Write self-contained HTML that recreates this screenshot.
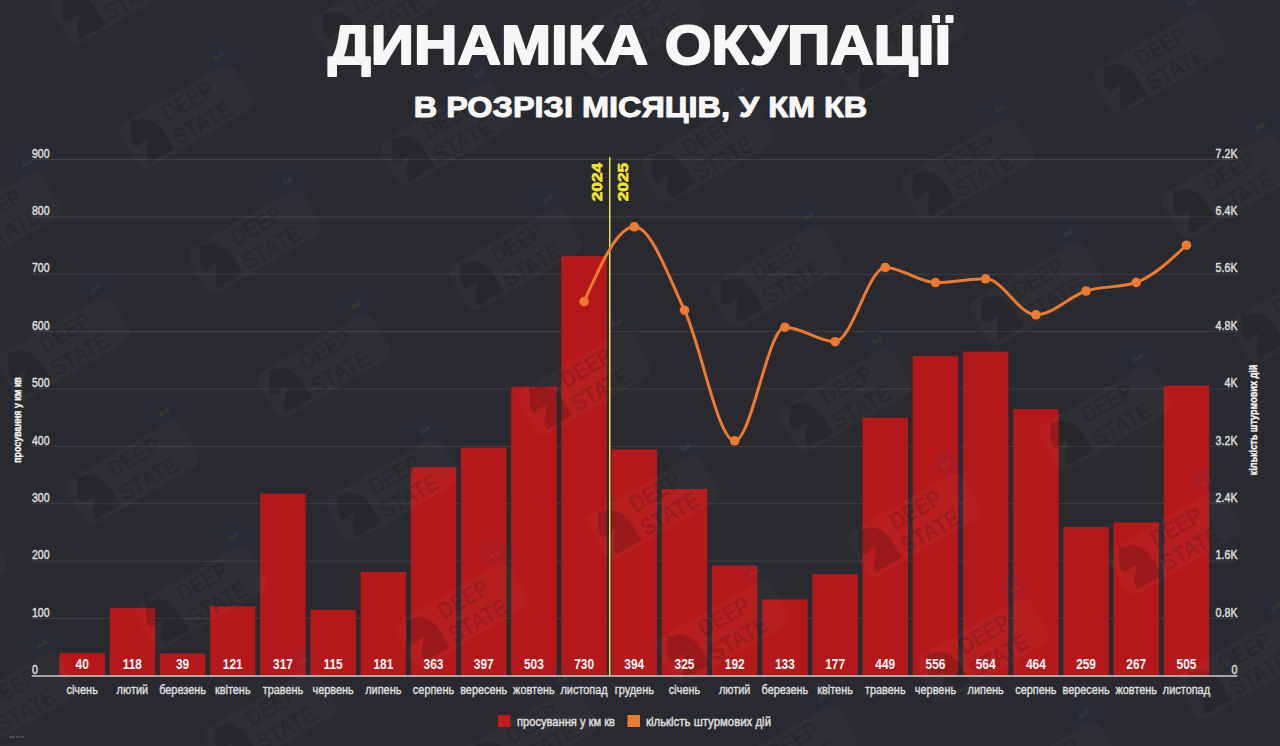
<!DOCTYPE html><html><head><meta charset="utf-8"><style>
html,body{margin:0;padding:0;background:#292a2f;width:1280px;height:746px;overflow:hidden}
svg{display:block}
text{font-family:"Liberation Sans",sans-serif}
</style></head><body>
<svg width="1280" height="746" viewBox="0 0 1280 746">
<rect width="1280" height="746" fill="#292a2f"/>
<rect x="31.7" y="618.02" width="1205.6" height="1" fill="#3f4045"/>
<rect x="31.7" y="560.65" width="1205.6" height="1" fill="#3f4045"/>
<rect x="31.7" y="503.27" width="1205.6" height="1" fill="#3f4045"/>
<rect x="31.7" y="445.90" width="1205.6" height="1" fill="#3f4045"/>
<rect x="31.7" y="388.52" width="1205.6" height="1" fill="#3f4045"/>
<rect x="31.7" y="331.15" width="1205.6" height="1" fill="#3f4045"/>
<rect x="31.7" y="273.77" width="1205.6" height="1" fill="#3f4045"/>
<rect x="31.7" y="216.40" width="1205.6" height="1" fill="#3f4045"/>
<rect x="31.7" y="159.02" width="1205.6" height="1" fill="#3f4045"/>
<rect x="59.40" y="652.90" width="45.5" height="23.00" fill="#b4181a"/>
<rect x="109.59" y="608.05" width="45.5" height="67.85" fill="#b4181a"/>
<rect x="159.79" y="653.48" width="45.5" height="22.42" fill="#b4181a"/>
<rect x="209.99" y="606.33" width="45.5" height="69.57" fill="#b4181a"/>
<rect x="260.18" y="493.62" width="45.5" height="182.27" fill="#b4181a"/>
<rect x="310.38" y="609.77" width="45.5" height="66.12" fill="#b4181a"/>
<rect x="360.57" y="571.83" width="45.5" height="104.07" fill="#b4181a"/>
<rect x="410.76" y="467.17" width="45.5" height="208.72" fill="#b4181a"/>
<rect x="460.96" y="447.62" width="45.5" height="228.27" fill="#b4181a"/>
<rect x="511.15" y="386.68" width="45.5" height="289.22" fill="#b4181a"/>
<rect x="561.35" y="256.15" width="45.5" height="419.75" fill="#b4181a"/>
<rect x="611.54" y="449.35" width="45.5" height="226.55" fill="#b4181a"/>
<rect x="661.74" y="489.02" width="45.5" height="186.87" fill="#b4181a"/>
<rect x="711.93" y="565.50" width="45.5" height="110.40" fill="#b4181a"/>
<rect x="762.13" y="599.42" width="45.5" height="76.47" fill="#b4181a"/>
<rect x="812.32" y="574.12" width="45.5" height="101.77" fill="#b4181a"/>
<rect x="862.52" y="417.73" width="45.5" height="258.17" fill="#b4181a"/>
<rect x="912.72" y="356.20" width="45.5" height="319.70" fill="#b4181a"/>
<rect x="962.91" y="351.60" width="45.5" height="324.30" fill="#b4181a"/>
<rect x="1013.11" y="409.10" width="45.5" height="266.80" fill="#b4181a"/>
<rect x="1063.30" y="526.98" width="45.5" height="148.92" fill="#b4181a"/>
<rect x="1113.50" y="522.38" width="45.5" height="153.52" fill="#b4181a"/>
<rect x="1163.69" y="385.52" width="45.5" height="290.38" fill="#b4181a"/>
<g><defs><g id="bdg">
<rect x="-66" y="-26" width="132" height="52" rx="11" fill="rgba(255,255,255,0.028)"/>
<path d="M-56,22 L-26,22 L-27,16 C-26,6 -27,-4 -30,-10 C-33,-17 -40,-22 -46,-21 L-50,-25 L-52,-19 C-56,-15 -59,-9 -60,-4 L-58,1 L-53,1 C-50,-1 -47,-1 -44,0 C-48,6 -54,12 -55,16 Z" fill="rgba(0,0,0,0.15)"/>
<text transform="translate(9,-4.5) scale(0.85,1)" text-anchor="middle" font-size="24" font-weight="bold" fill="rgba(0,0,0,0.15)">DEEP</text>
<text transform="translate(11,21.5) scale(0.85,1)" text-anchor="middle" font-size="24" font-weight="bold" fill="rgba(0,0,0,0.15)">STATE</text>
<circle cx="58" cy="-38" r="13" fill="rgba(30,60,160,0.06)"/>
<path d="M52,-34 L64,-34 L62,-40 L58,-36 L54,-40 Z" fill="rgba(200,180,40,0.08)"/>
</g></defs><use href="#bdg" transform="translate(-59.2,579.7) rotate(-30)"/>
<use href="#bdg" transform="translate(9.7,704.2) rotate(-30)"/>
<use href="#bdg" transform="translate(-74.3,99.2) rotate(-30)"/>
<use href="#bdg" transform="translate(-5.4,223.7) rotate(-30)"/>
<use href="#bdg" transform="translate(63.5,348.2) rotate(-30)"/>
<use href="#bdg" transform="translate(132.4,472.7) rotate(-30)"/>
<use href="#bdg" transform="translate(201.3,597.2) rotate(-30)"/>
<use href="#bdg" transform="translate(270.2,721.7) rotate(-30)"/>
<use href="#bdg" transform="translate(117.3,-7.8) rotate(-30)"/>
<use href="#bdg" transform="translate(186.2,116.7) rotate(-30)"/>
<use href="#bdg" transform="translate(255.1,241.2) rotate(-30)"/>
<use href="#bdg" transform="translate(324.0,365.7) rotate(-30)"/>
<use href="#bdg" transform="translate(392.9,490.2) rotate(-30)"/>
<use href="#bdg" transform="translate(461.8,614.7) rotate(-30)"/>
<use href="#bdg" transform="translate(530.7,739.2) rotate(-30)"/>
<use href="#bdg" transform="translate(377.8,9.7) rotate(-30)"/>
<use href="#bdg" transform="translate(446.7,134.2) rotate(-30)"/>
<use href="#bdg" transform="translate(515.6,258.7) rotate(-30)"/>
<use href="#bdg" transform="translate(584.5,383.2) rotate(-30)"/>
<use href="#bdg" transform="translate(653.4,507.7) rotate(-30)"/>
<use href="#bdg" transform="translate(722.3,632.2) rotate(-30)"/>
<use href="#bdg" transform="translate(791.2,756.7) rotate(-30)"/>
<use href="#bdg" transform="translate(638.3,27.2) rotate(-30)"/>
<use href="#bdg" transform="translate(707.2,151.7) rotate(-30)"/>
<use href="#bdg" transform="translate(776.1,276.2) rotate(-30)"/>
<use href="#bdg" transform="translate(845.0,400.7) rotate(-30)"/>
<use href="#bdg" transform="translate(913.9,525.2) rotate(-30)"/>
<use href="#bdg" transform="translate(982.8,649.7) rotate(-30)"/>
<use href="#bdg" transform="translate(1051.7,774.2) rotate(-30)"/>
<use href="#bdg" transform="translate(898.8,44.7) rotate(-30)"/>
<use href="#bdg" transform="translate(967.7,169.2) rotate(-30)"/>
<use href="#bdg" transform="translate(1036.6,293.7) rotate(-30)"/>
<use href="#bdg" transform="translate(1105.5,418.2) rotate(-30)"/>
<use href="#bdg" transform="translate(1174.4,542.7) rotate(-30)"/>
<use href="#bdg" transform="translate(1243.3,667.2) rotate(-30)"/>
<use href="#bdg" transform="translate(1312.2,791.7) rotate(-30)"/>
<use href="#bdg" transform="translate(1090.4,-62.3) rotate(-30)"/>
<use href="#bdg" transform="translate(1159.3,62.2) rotate(-30)"/>
<use href="#bdg" transform="translate(1228.2,186.7) rotate(-30)"/>
<use href="#bdg" transform="translate(1297.1,311.2) rotate(-30)"/>
<use href="#bdg" transform="translate(1366.0,435.7) rotate(-30)"/>
<use href="#bdg" transform="translate(1350.9,-44.8) rotate(-30)"/></g>
<rect x="31.7" y="675.2" width="1205.6" height="1.6" fill="#c4c4c4"/>
<rect x="609" y="157" width="1.5" height="519" fill="#ece45c"/>
<path d="M584.10,301.57 C600.83,264.20 617.56,226.82 634.29,226.82 C651.03,226.82 667.76,274.54 684.49,310.20 C701.22,345.86 717.95,440.80 734.68,440.80 C751.42,440.80 768.15,327.23 784.88,327.23 C801.61,327.23 818.34,341.68 835.07,341.68 C851.81,341.68 868.54,267.43 885.27,267.43 C902.00,267.43 918.73,282.53 935.47,282.53 C952.20,282.53 968.93,278.79 985.66,278.79 C1002.39,278.79 1019.12,314.80 1035.86,314.80 C1052.59,314.80 1069.32,296.41 1086.05,291.01 C1102.78,285.61 1119.51,288.13 1136.25,282.38 C1152.98,276.63 1169.71,260.93 1186.44,245.23" fill="none" stroke="#ee7a30" stroke-width="3" stroke-linecap="round"/>
<circle cx="584.10" cy="301.57" r="4.8" fill="#ee7a30"/>
<circle cx="634.29" cy="226.82" r="4.8" fill="#ee7a30"/>
<circle cx="684.49" cy="310.20" r="4.8" fill="#ee7a30"/>
<circle cx="734.68" cy="440.80" r="4.8" fill="#ee7a30"/>
<circle cx="784.88" cy="327.23" r="4.8" fill="#ee7a30"/>
<circle cx="835.07" cy="341.68" r="4.8" fill="#ee7a30"/>
<circle cx="885.27" cy="267.43" r="4.8" fill="#ee7a30"/>
<circle cx="935.47" cy="282.53" r="4.8" fill="#ee7a30"/>
<circle cx="985.66" cy="278.79" r="4.8" fill="#ee7a30"/>
<circle cx="1035.86" cy="314.80" r="4.8" fill="#ee7a30"/>
<circle cx="1086.05" cy="291.01" r="4.8" fill="#ee7a30"/>
<circle cx="1136.25" cy="282.38" r="4.8" fill="#ee7a30"/>
<circle cx="1186.44" cy="245.23" r="4.8" fill="#ee7a30"/>
<text transform="translate(639.5,63.7) scale(1.094,1)" text-anchor="middle" font-size="55" font-weight="bold" fill="#f7f7f7" stroke="#f7f7f7" stroke-width="2" stroke-linejoin="round">ДИНАМІКА ОКУПАЦІЇ</text>
<text transform="translate(640.5,117.2) scale(1.12,1)" text-anchor="middle" font-size="29" font-weight="bold" fill="#f7f7f7" stroke="#f7f7f7" stroke-width="1" stroke-linejoin="round">В РОЗРІЗІ МІСЯЦІВ, У КМ КВ</text>
<text transform="translate(32,674.10) scale(0.81,1)" font-size="13" fill="#dcdcdc" stroke="#dcdcdc" stroke-width="0.5">0</text>
<text transform="translate(32,616.73) scale(0.81,1)" font-size="13" fill="#dcdcdc" stroke="#dcdcdc" stroke-width="0.5">100</text>
<text transform="translate(32,559.35) scale(0.81,1)" font-size="13" fill="#dcdcdc" stroke="#dcdcdc" stroke-width="0.5">200</text>
<text transform="translate(32,501.97) scale(0.81,1)" font-size="13" fill="#dcdcdc" stroke="#dcdcdc" stroke-width="0.5">300</text>
<text transform="translate(32,444.60) scale(0.81,1)" font-size="13" fill="#dcdcdc" stroke="#dcdcdc" stroke-width="0.5">400</text>
<text transform="translate(32,387.22) scale(0.81,1)" font-size="13" fill="#dcdcdc" stroke="#dcdcdc" stroke-width="0.5">500</text>
<text transform="translate(32,329.85) scale(0.81,1)" font-size="13" fill="#dcdcdc" stroke="#dcdcdc" stroke-width="0.5">600</text>
<text transform="translate(32,272.47) scale(0.81,1)" font-size="13" fill="#dcdcdc" stroke="#dcdcdc" stroke-width="0.5">700</text>
<text transform="translate(32,215.10) scale(0.81,1)" font-size="13" fill="#dcdcdc" stroke="#dcdcdc" stroke-width="0.5">800</text>
<text transform="translate(32,157.72) scale(0.81,1)" font-size="13" fill="#dcdcdc" stroke="#dcdcdc" stroke-width="0.5">900</text>
<text transform="translate(1237.5,674.10) scale(0.82,1)" text-anchor="end" font-size="13" fill="#dcdcdc" stroke="#dcdcdc" stroke-width="0.5">0</text>
<text transform="translate(1237.5,616.73) scale(0.82,1)" text-anchor="end" font-size="13" fill="#dcdcdc" stroke="#dcdcdc" stroke-width="0.5">0.8K</text>
<text transform="translate(1237.5,559.35) scale(0.82,1)" text-anchor="end" font-size="13" fill="#dcdcdc" stroke="#dcdcdc" stroke-width="0.5">1.6K</text>
<text transform="translate(1237.5,501.97) scale(0.82,1)" text-anchor="end" font-size="13" fill="#dcdcdc" stroke="#dcdcdc" stroke-width="0.5">2.4K</text>
<text transform="translate(1237.5,444.60) scale(0.82,1)" text-anchor="end" font-size="13" fill="#dcdcdc" stroke="#dcdcdc" stroke-width="0.5">3.2K</text>
<text transform="translate(1237.5,387.22) scale(0.82,1)" text-anchor="end" font-size="13" fill="#dcdcdc" stroke="#dcdcdc" stroke-width="0.5">4K</text>
<text transform="translate(1237.5,329.85) scale(0.82,1)" text-anchor="end" font-size="13" fill="#dcdcdc" stroke="#dcdcdc" stroke-width="0.5">4.8K</text>
<text transform="translate(1237.5,272.47) scale(0.82,1)" text-anchor="end" font-size="13" fill="#dcdcdc" stroke="#dcdcdc" stroke-width="0.5">5.6K</text>
<text transform="translate(1237.5,215.10) scale(0.82,1)" text-anchor="end" font-size="13" fill="#dcdcdc" stroke="#dcdcdc" stroke-width="0.5">6.4K</text>
<text transform="translate(1237.5,157.72) scale(0.82,1)" text-anchor="end" font-size="13" fill="#dcdcdc" stroke="#dcdcdc" stroke-width="0.5">7.2K</text>
<text transform="translate(82.15,669) scale(0.85,1)" text-anchor="middle" font-size="14" font-weight="bold" fill="#fafafa">40</text>
<text transform="translate(132.34,669) scale(0.85,1)" text-anchor="middle" font-size="14" font-weight="bold" fill="#fafafa">118</text>
<text transform="translate(182.54,669) scale(0.85,1)" text-anchor="middle" font-size="14" font-weight="bold" fill="#fafafa">39</text>
<text transform="translate(232.74,669) scale(0.85,1)" text-anchor="middle" font-size="14" font-weight="bold" fill="#fafafa">121</text>
<text transform="translate(282.93,669) scale(0.85,1)" text-anchor="middle" font-size="14" font-weight="bold" fill="#fafafa">317</text>
<text transform="translate(333.12,669) scale(0.85,1)" text-anchor="middle" font-size="14" font-weight="bold" fill="#fafafa">115</text>
<text transform="translate(383.32,669) scale(0.85,1)" text-anchor="middle" font-size="14" font-weight="bold" fill="#fafafa">181</text>
<text transform="translate(433.51,669) scale(0.85,1)" text-anchor="middle" font-size="14" font-weight="bold" fill="#fafafa">363</text>
<text transform="translate(483.71,669) scale(0.85,1)" text-anchor="middle" font-size="14" font-weight="bold" fill="#fafafa">397</text>
<text transform="translate(533.90,669) scale(0.85,1)" text-anchor="middle" font-size="14" font-weight="bold" fill="#fafafa">503</text>
<text transform="translate(584.10,669) scale(0.85,1)" text-anchor="middle" font-size="14" font-weight="bold" fill="#fafafa">730</text>
<text transform="translate(634.29,669) scale(0.85,1)" text-anchor="middle" font-size="14" font-weight="bold" fill="#fafafa">394</text>
<text transform="translate(684.49,669) scale(0.85,1)" text-anchor="middle" font-size="14" font-weight="bold" fill="#fafafa">325</text>
<text transform="translate(734.68,669) scale(0.85,1)" text-anchor="middle" font-size="14" font-weight="bold" fill="#fafafa">192</text>
<text transform="translate(784.88,669) scale(0.85,1)" text-anchor="middle" font-size="14" font-weight="bold" fill="#fafafa">133</text>
<text transform="translate(835.07,669) scale(0.85,1)" text-anchor="middle" font-size="14" font-weight="bold" fill="#fafafa">177</text>
<text transform="translate(885.27,669) scale(0.85,1)" text-anchor="middle" font-size="14" font-weight="bold" fill="#fafafa">449</text>
<text transform="translate(935.47,669) scale(0.85,1)" text-anchor="middle" font-size="14" font-weight="bold" fill="#fafafa">556</text>
<text transform="translate(985.66,669) scale(0.85,1)" text-anchor="middle" font-size="14" font-weight="bold" fill="#fafafa">564</text>
<text transform="translate(1035.86,669) scale(0.85,1)" text-anchor="middle" font-size="14" font-weight="bold" fill="#fafafa">464</text>
<text transform="translate(1086.05,669) scale(0.85,1)" text-anchor="middle" font-size="14" font-weight="bold" fill="#fafafa">259</text>
<text transform="translate(1136.25,669) scale(0.85,1)" text-anchor="middle" font-size="14" font-weight="bold" fill="#fafafa">267</text>
<text transform="translate(1186.44,669) scale(0.85,1)" text-anchor="middle" font-size="14" font-weight="bold" fill="#fafafa">505</text>
<text transform="translate(82.15,694) scale(0.84,1)" text-anchor="middle" font-size="13" fill="#dcdcdc" stroke="#dcdcdc" stroke-width="0.45">січень</text>
<text transform="translate(132.34,694) scale(0.84,1)" text-anchor="middle" font-size="13" fill="#dcdcdc" stroke="#dcdcdc" stroke-width="0.45">лютий</text>
<text transform="translate(182.54,694) scale(0.84,1)" text-anchor="middle" font-size="13" fill="#dcdcdc" stroke="#dcdcdc" stroke-width="0.45">березень</text>
<text transform="translate(232.74,694) scale(0.84,1)" text-anchor="middle" font-size="13" fill="#dcdcdc" stroke="#dcdcdc" stroke-width="0.45">квітень</text>
<text transform="translate(282.93,694) scale(0.84,1)" text-anchor="middle" font-size="13" fill="#dcdcdc" stroke="#dcdcdc" stroke-width="0.45">травень</text>
<text transform="translate(333.12,694) scale(0.84,1)" text-anchor="middle" font-size="13" fill="#dcdcdc" stroke="#dcdcdc" stroke-width="0.45">червень</text>
<text transform="translate(383.32,694) scale(0.84,1)" text-anchor="middle" font-size="13" fill="#dcdcdc" stroke="#dcdcdc" stroke-width="0.45">липень</text>
<text transform="translate(433.51,694) scale(0.84,1)" text-anchor="middle" font-size="13" fill="#dcdcdc" stroke="#dcdcdc" stroke-width="0.45">серпень</text>
<text transform="translate(483.71,694) scale(0.84,1)" text-anchor="middle" font-size="13" fill="#dcdcdc" stroke="#dcdcdc" stroke-width="0.45">вересень</text>
<text transform="translate(533.90,694) scale(0.84,1)" text-anchor="middle" font-size="13" fill="#dcdcdc" stroke="#dcdcdc" stroke-width="0.45">жовтень</text>
<text transform="translate(584.10,694) scale(0.84,1)" text-anchor="middle" font-size="13" fill="#dcdcdc" stroke="#dcdcdc" stroke-width="0.45">листопад</text>
<text transform="translate(634.29,694) scale(0.84,1)" text-anchor="middle" font-size="13" fill="#dcdcdc" stroke="#dcdcdc" stroke-width="0.45">грудень</text>
<text transform="translate(684.49,694) scale(0.84,1)" text-anchor="middle" font-size="13" fill="#dcdcdc" stroke="#dcdcdc" stroke-width="0.45">січень</text>
<text transform="translate(734.68,694) scale(0.84,1)" text-anchor="middle" font-size="13" fill="#dcdcdc" stroke="#dcdcdc" stroke-width="0.45">лютий</text>
<text transform="translate(784.88,694) scale(0.84,1)" text-anchor="middle" font-size="13" fill="#dcdcdc" stroke="#dcdcdc" stroke-width="0.45">березень</text>
<text transform="translate(835.07,694) scale(0.84,1)" text-anchor="middle" font-size="13" fill="#dcdcdc" stroke="#dcdcdc" stroke-width="0.45">квітень</text>
<text transform="translate(885.27,694) scale(0.84,1)" text-anchor="middle" font-size="13" fill="#dcdcdc" stroke="#dcdcdc" stroke-width="0.45">травень</text>
<text transform="translate(935.47,694) scale(0.84,1)" text-anchor="middle" font-size="13" fill="#dcdcdc" stroke="#dcdcdc" stroke-width="0.45">червень</text>
<text transform="translate(985.66,694) scale(0.84,1)" text-anchor="middle" font-size="13" fill="#dcdcdc" stroke="#dcdcdc" stroke-width="0.45">липень</text>
<text transform="translate(1035.86,694) scale(0.84,1)" text-anchor="middle" font-size="13" fill="#dcdcdc" stroke="#dcdcdc" stroke-width="0.45">серпень</text>
<text transform="translate(1086.05,694) scale(0.84,1)" text-anchor="middle" font-size="13" fill="#dcdcdc" stroke="#dcdcdc" stroke-width="0.45">вересень</text>
<text transform="translate(1136.25,694) scale(0.84,1)" text-anchor="middle" font-size="13" fill="#dcdcdc" stroke="#dcdcdc" stroke-width="0.45">жовтень</text>
<text transform="translate(1186.44,694) scale(0.84,1)" text-anchor="middle" font-size="13" fill="#dcdcdc" stroke="#dcdcdc" stroke-width="0.45">листопад</text>
<text transform="translate(601.5,201.3) rotate(-90) scale(1.15,1)" font-size="15" font-weight="bold" fill="#f2e62c" stroke="#f2e62c" stroke-width="0.6">2024</text>
<text transform="translate(627.7,201.3) rotate(-90) scale(1.15,1)" font-size="15" font-weight="bold" fill="#f2e62c" stroke="#f2e62c" stroke-width="0.6">2025</text>
<text transform="translate(20.5,420) rotate(-90) scale(0.81,1)" text-anchor="middle" font-size="11" font-weight="bold" fill="#f2f2f2" stroke="#f2f2f2" stroke-width="0.4">просування у км кв</text>
<text transform="translate(1257,420) rotate(-90) scale(0.83,1)" text-anchor="middle" font-size="11" font-weight="bold" fill="#f2f2f2" stroke="#f2f2f2" stroke-width="0.4">кількість штурмових дій</text>
<rect x="498" y="715" width="12.5" height="12" fill="#c21b1c"/>
<text transform="translate(517,725.5) scale(0.857,1)" font-size="13" fill="#dcdcdc" stroke="#dcdcdc" stroke-width="0.5">просування у км кв</text>
<rect x="627.5" y="715" width="12.5" height="12" fill="#ee7a30"/>
<text transform="translate(646,725.5) scale(0.877,1)" font-size="13" fill="#dcdcdc" stroke="#dcdcdc" stroke-width="0.5">кількість штурмових дій</text>
<rect x="9" y="736" width="6" height="2" fill="#4a4b50"/><rect x="16" y="736" width="3" height="2" fill="#4a4b50"/><rect x="20" y="736" width="4" height="2" fill="#4a4b50"/>
</svg></body></html>
